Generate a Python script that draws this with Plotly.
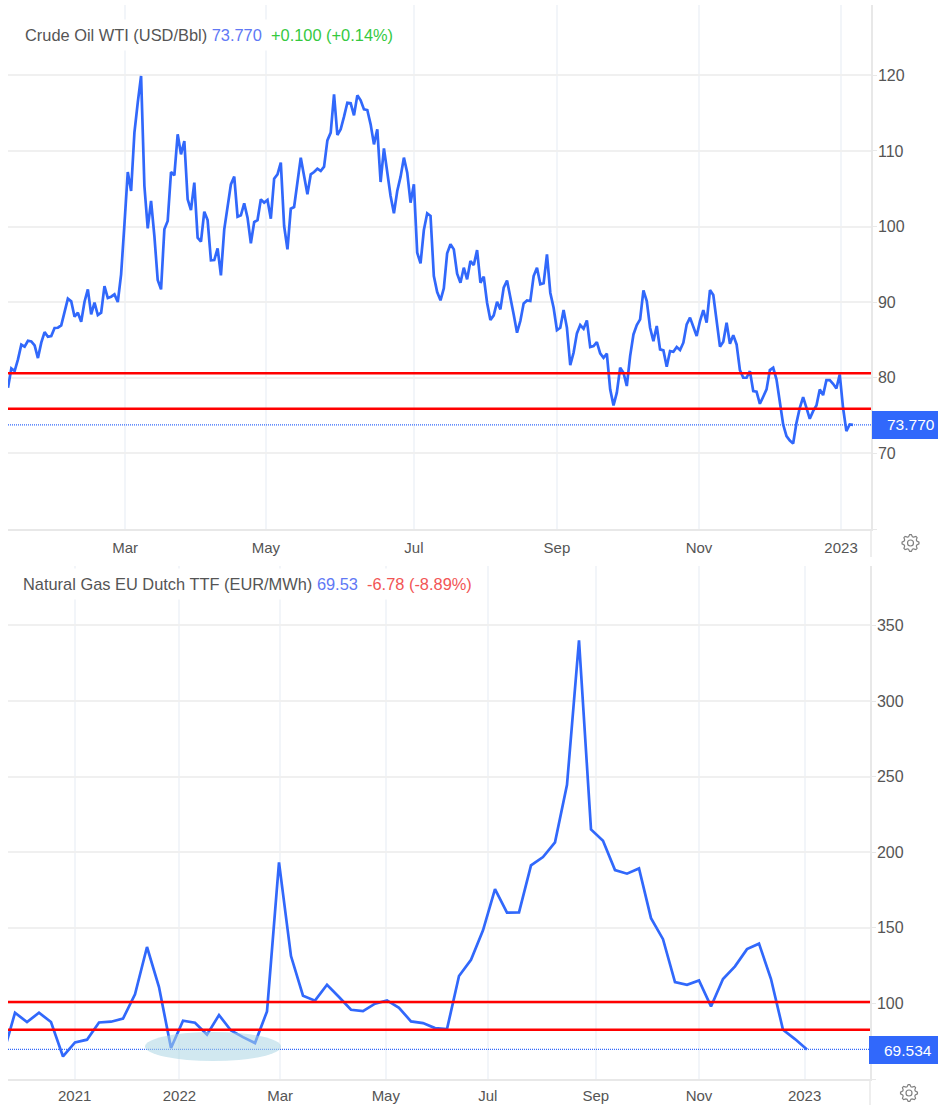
import math
import plotly.graph_objects as go

W, H = 938, 1105

# ---- data ----
oil_values = [
    78.69,81.24,80.89,82.43,84.37,84.11,84.90,84.81,84.29,82.61,
    84.64,86.05,85.43,85.52,86.58,86.62,86.93,88.83,90.46,90.11,
    88.08,88.61,87.42,90.06,91.69,88.39,89.93,88.30,88.61,92.13,
    90.55,90.72,91.03,90.02,93.68,100.29,107.21,104.70,112.42,116.38,
    119.91,105.36,99.76,103.38,98.75,92.93,91.69,99.63,100.73,107.21,
    106.77,112.20,109.55,111.31,103.60,102.19,105.80,98.53,98.00,101.97,
    100.86,95.53,95.57,97.12,93.54,99.63,102.94,105.58,106.60,101.30,
    101.48,103.07,101.17,97.78,100.60,100.86,103.60,103.16,103.51,101.04,
    106.33,106.90,108.45,100.07,96.98,102.36,102.58,106.24,109.11,106.68,
    104.26,106.90,107.21,107.65,107.35,107.92,111.40,112.42,117.49,112.11,
    112.86,114.53,116.38,116.30,114.71,117.35,116.69,115.50,115.41,113.52,
    110.87,112.86,105.89,110.34,107.35,104.04,101.75,104.70,106.60,109.11,
    107.13,103.16,105.58,96.54,95.13,99.54,101.75,101.40,93.46,91.34,
    90.24,91.83,96.46,97.65,96.98,93.77,92.57,94.56,93.02,95.44,
    94.91,96.89,92.57,93.37,89.93,87.64,88.26,90.06,89.05,91.92,
    92.87,90.81,88.38,85.96,87.50,89.84,90.23,90.15,93.46,94.56,
    92.36,92.49,96.32,91.25,89.27,86.31,86.61,88.95,86.61,81.68,
    83.31,85.87,86.97,86.49,87.59,84.06,84.19,84.72,83.22,82.65,
    83.18,78.47,76.35,78.03,81.34,80.67,78.91,82.87,85.73,86.97,
    87.72,91.55,90.15,86.61,84.85,86.84,83.75,83.62,81.46,83.53,
    83.44,84.06,83.66,84.64,87.07,87.95,86.84,85.52,87.50,88.96,
    87.28,91.60,90.94,87.28,84.11,84.77,87.28,84.50,85.64,84.41,
    81.01,80.00,80.00,80.88,78.24,78.15,76.56,77.49,78.46,81.01,
    81.32,79.77,76.69,73.82,72.28,71.70,71.31,74.04,76.03,77.44,
    76.03,74.57,75.59,76.34,78.46,77.71,79.69,79.69,79.21,78.59,
    80.44,76.03,72.95,73.82,73.77,
]
gas_values = [
    66,93.8,87.7,93.8,87.7,64.9,74.2,76.0,87.4,87.9,
    89.9,106,137.3,110.8,70.5,88.5,87.2,79.3,92.3,82.1,
    77.7,73.8,94.7,193.3,131.3,105.1,101.8,112.3,104.2,95.8,
    94.9,99.8,102,97.1,88.1,87,83.7,83,118.1,128.9,
    148.3,175.6,160,160.2,191.3,196.8,206.5,244.6,340.1,215.1,
    207.6,188.2,185.8,189.3,156.4,142.5,114.1,112.3,115.2,98,
    116.1,124.5,135.9,139.5,116.1,82.6,76.4,69.53,
]
oil_tick_labels = ["Mar", "May", "Jul", "Sep", "Nov", "2023"]
oil_tick_index = [35.2, 77.5, 122, 165, 207.7, 250.4]
gas_tick_labels = ["2021", "2022", "Mar", "May", "Jul", "Sep", "Nov", "2023"]
gas_tick_index = [5.97, 14.7, 23.1, 31.9, 40.4, 49.4, 58.0, 66.8]
oil_levels = [80.6, 75.9]
gas_levels = [100.9, 82.6]
oil_last = 73.77
gas_last = 69.534
oil_yticks = [60, 70, 80, 90, 100, 110, 120]
oil_ylabels = ["", "70", "80", "90", "100", "110", "120"]
gas_yticks = [50, 100, 150, 200, 250, 300, 350]
gas_ylabels = ["", "100", "150", "200", "250", "300", "350"]

# ---- styles ----
BLUE = "#3168fb"
RED = "#ff0000"
GRID_H = "#f0f0f0"
GRID_V = "#f2f5f9"
AXIS = "#e8e8e8"
TXT = "#555555"
FONT = "Liberation Sans, Arial, sans-serif"
PRICE_TXT = "#6078f5"

px = lambda x: x / W
py = lambda y: 1 - y / H

oil_x = list(range(len(oil_values)))
gas_x = list(range(len(gas_values)))
oil_range = [0, 259.4]
gas_range = [0.417, 72.25]

fig = go.Figure()

def add_series(x, y, xa, ya, rng, levels, last):
    fig.add_trace(go.Scatter(x=x, y=y, xaxis=xa, yaxis=ya, mode="lines",
                             line=dict(color=BLUE, width=2.7), hoverinfo="skip"))
    fig.add_trace(go.Scatter(x=rng, y=[last, last], xaxis=xa, yaxis=ya, mode="lines",
                             line=dict(color=BLUE, width=1.2, dash="1px,1px"), hoverinfo="skip"))
    for v in levels:
        fig.add_trace(go.Scatter(x=rng, y=[v, v], xaxis=xa, yaxis=ya, mode="lines",
                                 line=dict(color=RED, width=2.6), hoverinfo="skip"))

add_series(oil_x, oil_values, "x", "y", oil_range, oil_levels, oil_last)
add_series(gas_x, gas_values, "x2", "y2", gas_range, gas_levels, gas_last)

xstyle = dict(showgrid=True, gridcolor=GRID_V, gridwidth=1.5, zeroline=False,
              showline=True, linecolor=AXIS, linewidth=2, ticks="",
              tickfont=dict(family=FONT, size=15, color=TXT), tickmode="array")
ystyle = dict(side="right", showgrid=True, gridcolor=GRID_H, gridwidth=2, zeroline=False,
              showline=True, linecolor=AXIS, linewidth=1.5, ticks="outside", ticklen=4,
              ticklabelstandoff=-2,
              tickcolor=AXIS, tickfont=dict(family=FONT, size=16, color=TXT),
              tickmode="array")

fig.update_layout(
    width=W, height=H, margin=dict(l=0, r=0, t=0, b=0, autoexpand=False),
    paper_bgcolor="white", plot_bgcolor="white", showlegend=False,
    xaxis=dict(domain=[px(8), px(871)], range=oil_range, anchor="y", ticklabelstandoff=4,
               tickvals=oil_tick_index, ticktext=oil_tick_labels, **xstyle),
    yaxis=dict(domain=[py(529), py(5)], range=[60, 129.3], anchor="x",
               tickvals=oil_yticks, ticktext=oil_ylabels, **ystyle),
    xaxis2=dict(domain=[px(8), px(870)], range=gas_range, anchor="y2", ticklabelstandoff=2,
                tickvals=gas_tick_index, ticktext=gas_tick_labels, **xstyle),
    yaxis2=dict(domain=[py(1079), py(566)], range=[50, 389.3], anchor="x2",
                tickvals=gas_yticks, ticktext=gas_ylabels, **ystyle),
)

def gear(cx, cy, r_out=8.5, r_in=6.6, teeth=8):
    pts = []
    n = teeth * 4
    for i in range(n):
        a = 2 * math.pi * (i - 0.5) / n
        r = r_out if i % 4 in (0, 1) else r_in
        pts.append((px(cx + r * math.cos(a)), py(cy + r * math.sin(a))))
    return "M " + " L ".join(f"{a:.5f},{b:.5f}" for a, b in pts) + " Z"

shapes = []
# right rails that run on below the x axis
shapes.append(dict(type="line", xref="paper", yref="paper", x0=px(871), x1=px(871),
                   y0=py(529), y1=py(557), line=dict(color=AXIS, width=1.5)))
shapes.append(dict(type="line", xref="paper", yref="paper", x0=px(870), x1=px(870),
                   y0=py(1079), y1=py(1105), line=dict(color=AXIS, width=1.5)))
# price tags
shapes.append(dict(type="rect", xref="paper", yref="paper", x0=px(872), x1=px(938),
                   y0=py(439), y1=py(411), fillcolor=BLUE, line=dict(width=0)))
shapes.append(dict(type="rect", xref="paper", yref="paper", x0=px(869), x1=px(938),
                   y0=py(1064), y1=py(1036), fillcolor=BLUE, line=dict(width=0)))
# highlight ellipse
shapes.append(dict(type="circle", xref="paper", yref="paper", x0=px(145), x1=px(281),
                   y0=py(1061), y1=py(1032), fillcolor="rgba(172,214,228,0.55)",
                   line=dict(width=0)))
# gears
for cx, cy in [(910.5, 543), (909, 1093)]:
    shapes.append(dict(type="path", xref="paper", yref="paper", path=gear(cx, cy),
                       line=dict(color="#808080", width=1.2), fillcolor="rgba(0,0,0,0)"))
    shapes.append(dict(type="circle", xref="paper", yref="paper",
                       x0=px(cx - 3), x1=px(cx + 3), y0=py(cy + 3), y1=py(cy - 3),
                       line=dict(color="#808080", width=1.2)))
fig.update_layout(shapes=shapes)

def title(x, y, parts):
    txt = "".join(f'<span style="color:{c}">{t}</span>' for t, c in parts)
    fig.add_annotation(xref="paper", yref="paper", x=px(x), y=py(y), xanchor="left",
                       yanchor="middle", showarrow=False, text=txt, bgcolor="white",
                       font=dict(family=FONT, size=16.4), borderpad=6)

title(18, 34.5, [("Crude Oil WTI (USD/Bbl) ", "#555555"), (f"{oil_last:.3f}", PRICE_TXT),
                 ("&nbsp;&nbsp;+0.100 (+0.14%)", "#35c93f")])
title(16, 583.5, [("Natural Gas EU Dutch TTF (EUR/MWh) ", "#555555"), ("69.53", PRICE_TXT),
                  ("&nbsp;&nbsp;-6.78 (-8.89%)", "#f25555")])

for txt, x, y in [(f"{oil_last:.3f}", 937, 425), (f"{gas_last:.3f}", 934, 1050)]:
    fig.add_annotation(xref="paper", yref="paper", x=px(x), y=py(y), xanchor="right",
                       yanchor="middle", showarrow=False, text=txt,
                       font=dict(family=FONT, size=15.5, color="white"))

fig.write_html("out.html", config=dict(displayModeBar=False),
               post_script="document.body.style.margin='0';")
